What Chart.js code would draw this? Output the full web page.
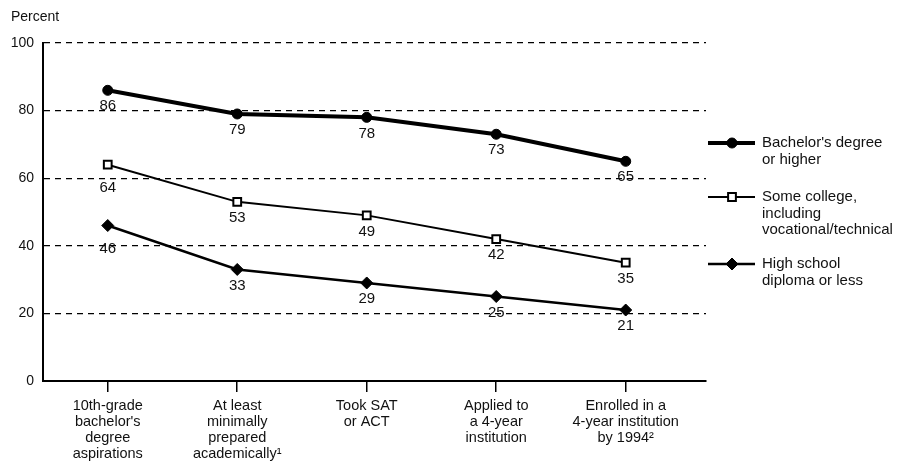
<!DOCTYPE html>
<html>
<head>
<meta charset="utf-8">
<script src="https://cdn.jsdelivr.net/npm/chart.js@4/dist/chart.umd.min.js"></script>
<style>
  html, body { margin: 0; padding: 0; background: #fff; }
  #wrap { width: 900px; height: 466px; position: relative; }
</style>
</head>
<body>
<div id="wrap"><canvas id="chart"></canvas></div>
<script>
// categories (x axis)
var categories = [
    ["10th-grade", "bachelor's", "degree", "aspirations"],
    ["At least", "minimally", "prepared", "academically\u00b9"],
    ["Took SAT", "or ACT"],
    ["Applied to", "a 4-year", "institution"],
    ["Enrolled in a", "4-year institution", "by 1994\u00b2"]
];

// series
var bachelors = [86, 79, 78, 73, 65];
var someCollege = [64, 53, 49, 42, 35];
var highSchool = [46, 33, 29, 25, 21];

var yTicks = [0, 20, 40, 60, 80, 100];

var legendText = [
    ["Bachelor's degree", "or higher"],
    ["Some college,", "including", "vocational/technical"],
    ["High school", "diploma or less"]
];

var FONT = "'Liberation Sans', Arial, sans-serif";

function toPoints(arr) {
    return arr.map(function(v, i) { return {x: i, y: v}; });
}

// numbers under each point
var valueLabels = {
    id: 'valueLabels',
    afterDatasetsDraw: function(chart) {
        var ctx = chart.ctx;
        ctx.save();
        ctx.fillStyle = '#111';
        ctx.font = '15px ' + FONT;
        ctx.textAlign = 'center';
        ctx.textBaseline = 'middle';
        chart.data.datasets.forEach(function(ds, di) {
            chart.getDatasetMeta(di).data.forEach(function(pt, i) {
                // first column of the two lower lines sits a bit lower in the original
                var off = (i === 0 && di > 0) ? 23 : 16;
                ctx.fillText(ds.data[i].y, pt.x, pt.y + off);
            });
        });
        ctx.restore();
    }
};

// "Percent" label and the legend on the right
var extras = {
    id: 'extras',
    afterDraw: function(chart) {
        var ctx = chart.ctx;
        ctx.save();
        ctx.fillStyle = '#111';
        ctx.font = '14px ' + FONT;
        ctx.textAlign = 'left';
        ctx.textBaseline = 'middle';
        ctx.fillText('Percent', 11, 17);

        var rowY = [143, 197, 264];
        chart.data.datasets.forEach(function(ds, di) {
            var y = rowY[di];
            ctx.strokeStyle = '#000';
            ctx.lineWidth = ds.borderWidth;
            ctx.beginPath();
            ctx.moveTo(708, y);
            ctx.lineTo(755, y);
            ctx.stroke();
            ctx.fillStyle = ds.pointBackgroundColor;
            ctx.strokeStyle = '#000';
            ctx.lineWidth = ds.pointBorderWidth;
            Chart.helpers.drawPoint(ctx, {
                pointStyle: ds.pointStyle,
                radius: ds.pointRadius,
                rotation: 0,
                borderWidth: ds.pointBorderWidth
            }, 732, y);
            ctx.fillStyle = '#111';
            ctx.font = '15px ' + FONT;
            legendText[di].forEach(function(line, li) {
                ctx.fillText(line, 762, y + li * 16.5);
            });
        });
        ctx.restore();
    }
};

new Chart(document.getElementById('chart'), {
    type: 'line',
    data: {
        datasets: [{
            label: "Bachelor's degree or higher",
            data: toPoints(bachelors),
            borderColor: '#000',
            borderWidth: 4,
            pointStyle: 'circle',
            pointRadius: 5,
            pointBackgroundColor: '#000',
            pointBorderColor: '#000',
            pointBorderWidth: 1
        }, {
            label: 'Some college, including vocational/technical',
            data: toPoints(someCollege),
            borderColor: '#000',
            borderWidth: 2,
            pointStyle: 'rect',
            pointRadius: 5.5,
            pointBackgroundColor: '#fff',
            pointBorderColor: '#000',
            pointBorderWidth: 2
        }, {
            label: 'High school diploma or less',
            data: toPoints(highSchool),
            borderColor: '#000',
            borderWidth: 2.5,
            pointStyle: 'rectRot',
            pointRadius: 6,
            pointBackgroundColor: '#000',
            pointBorderColor: '#000',
            pointBorderWidth: 1
        }]
    },
    options: {
        responsive: true,
        maintainAspectRatio: false,
        animation: false,
        layout: { padding: { left: 0, top: 43, right: 194, bottom: 0 } },
        plugins: {
            legend: { display: false },
            tooltip: { enabled: false }
        },
        scales: {
            x: {
                type: 'linear',
                min: -0.5,
                max: 4.62,
                afterBuildTicks: function(scale) {
                    scale.ticks = categories.map(function(c, i) { return {value: i}; });
                },
                afterFit: function(scale) { scale.height = 85; },
                ticks: {
                    autoSkip: false,
                    maxRotation: 0,
                    padding: 6,
                    color: '#111',
                    font: { family: FONT, size: 14.5, lineHeight: 1.1 },
                    callback: function(v) { return categories[v]; }
                },
                grid: {
                    drawOnChartArea: false,
                    drawTicks: true,
                    tickLength: 11,
                    color: '#000',
                    lineWidth: 1.5
                },
                border: { display: true, color: '#000', width: 2 }
            },
            y: {
                min: 0,
                max: 100,
                afterBuildTicks: function(scale) {
                    scale.ticks = yTicks.map(function(v) { return {value: v}; });
                },
                afterFit: function(scale) { scale.width = 43; },
                ticks: {
                    padding: 9,
                    color: '#111',
                    font: { family: FONT, size: 14 }
                },
                grid: {
                    drawTicks: false,
                    color: function(c) { return c.tick && c.tick.value === 0 ? 'rgba(0,0,0,0)' : '#000'; },
                    lineWidth: 1.2
                },
                border: { display: true, color: '#000', width: 2, dash: [6, 5] }
            }
        }
    },
    plugins: [valueLabels, extras]
});
</script>
</body>
</html>
